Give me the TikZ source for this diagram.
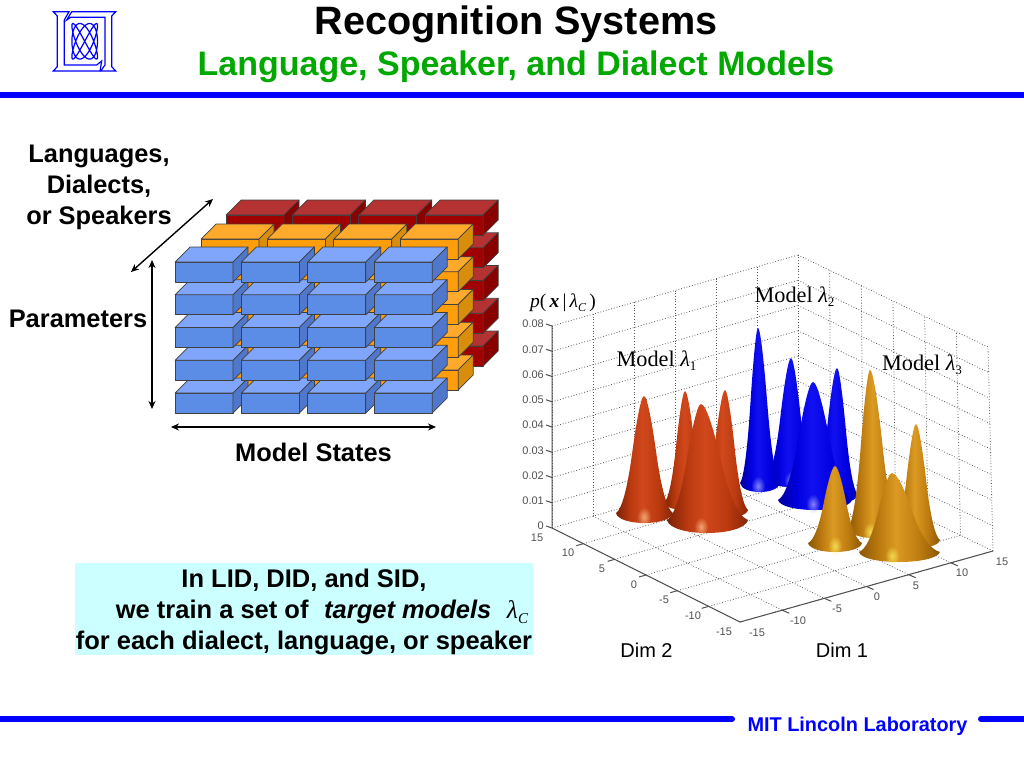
\documentclass[tikz,border=0pt]{standalone}
\usepackage{fontspec}
\setmainfont{Liberation Sans}
\newfontfamily\serifface{Liberation Serif}
\usetikzlibrary{arrows.meta,calc,fadings}
\definecolor{labblue}{HTML}{0000FF}
\definecolor{labgreen}{HTML}{00A800}
\definecolor{boxcyan}{HTML}{CCFFFF}
\definecolor{axisgray}{HTML}{505050}
\definecolor{reddark}{HTML}{7A2204}
\definecolor{redmid}{HTML}{BC3A10}
\definecolor{redlight}{HTML}{D0481C}
\definecolor{bluedark}{HTML}{00009A}
\definecolor{bluemid}{HTML}{0000E0}
\definecolor{bluelight}{HTML}{1010F0}
\definecolor{golddark}{HTML}{8A5606}
\definecolor{goldmid}{HTML}{BE7C10}
\definecolor{goldlight}{HTML}{DB9A22}
\pgfdeclarehorizontalshading{redpeak}{100bp}{color(0bp)=(reddark); color(25bp)=(reddark); color(38bp)=(redmid); color(48bp)=(redlight); color(62bp)=(redmid); color(75bp)=(reddark!85!redmid); color(100bp)=(reddark)}
\pgfdeclarehorizontalshading{bluepeak}{100bp}{color(0bp)=(bluedark); color(25bp)=(bluedark); color(38bp)=(bluemid); color(48bp)=(bluelight); color(62bp)=(bluemid); color(75bp)=(bluedark!60!bluemid); color(100bp)=(bluedark)}
\pgfdeclarehorizontalshading{goldpeak}{100bp}{color(0bp)=(golddark); color(25bp)=(golddark); color(38bp)=(goldmid); color(48bp)=(goldlight); color(62bp)=(goldmid); color(75bp)=(golddark); color(100bp)=(golddark)}
\tikzfading[name=glowfade,inner color=transparent!30,outer color=transparent!100]
\tikzset{
    titletext/.style={
        text=black,
        inner sep=0pt,
        font=\fontsize{39.6}{44}\selectfont\bfseries
    },
    subtitletext/.style={
        text=labgreen,
        inner sep=0pt,
        font=\fontsize{34}{40}\selectfont\bfseries
    },
    axislabel/.style={
        inner sep=0pt,
        align=center,
        font=\fontsize{25.4}{31}\selectfont\bfseries
    },
    modellabel/.style={
        inner sep=0pt,
        font=\fontsize{22.3}{26}\selectfont\serifface
    },
    dimlabel/.style={
        inner sep=0pt,
        font=\fontsize{20}{24}\selectfont
    },
    ticktext/.style={
        inner sep=0pt,
        text=axisgray,
        font=\fontsize{11}{13}\selectfont
    },
    rulebar/.style={
        draw=labblue,
        line width=6pt,
        line cap=round
    },
    sizearrow/.style={
        {Stealth[length=8pt,width=7pt]}-{Stealth[length=8pt,width=7pt]},
        draw=black,
        line width=1.4pt
    },
    gridline/.style={
        draw=black!65,
        line width=0.8pt,
        dotted
    },
    plotaxis/.style={
        draw=axisgray,
        line width=1pt
    },
    brickedge/.style={
        draw=black!75,
        line width=0.7pt,
        line join=round
    },
    logoline/.style={
        draw=labblue,
        line width=1.2pt,
        line join=miter
    }
}
% lambda with a subscript, size of the subscript first
\newcommand{\lamsub}[2]{{\mdseries\serifface\itshape λ}\raisebox{-0.18em}{\fontsize{#1}{#1}\selectfont\mdseries\serifface #2}}
% one box of the stack: x, y of the front corner, then front, top and side colour
\newcommand{\brick}[5]{
    \fill[brickedge,fill=#3] (#1,#2) rectangle (#1+58,#2+20);
    \fill[brickedge,fill=#4] (#1,#2) -- (#1+15,#2-15) -- (#1+73,#2-15) -- (#1+58,#2) -- cycle;
    \fill[brickedge,fill=#5] (#1+58,#2) -- (#1+73,#2-15) -- (#1+73,#2+5) -- (#1+58,#2+20) -- cycle;
}
% one bump: apex x, apex y, left x, right x, foot y, bottom y, shading, glow colour
\newcommand{\peak}[8]{
    \pgfmathsetmacro{\wl}{#1-#3}
    \pgfmathsetmacro{\wr}{#4-#1}
    \pgfmathsetmacro{\hh}{#5-#2}
    \pgfmathsetmacro{\bb}{#5+(#6-#5)/0.75}
    \shade[shading=#7] (#3,#5)
        .. controls (#3+0.2*\wl,#5-0.03*\hh) and (#1-0.6*\wl,#5-0.2*\hh) .. (#1-0.43*\wl,#5-0.5*\hh)
        .. controls (#1-0.33*\wl,#5-0.68*\hh) and (#1-0.13*\wl,#2) .. (#1,#2)
        .. controls (#1+0.13*\wr,#2) and (#1+0.33*\wr,#5-0.68*\hh) .. (#1+0.43*\wr,#5-0.5*\hh)
        .. controls (#1+0.6*\wr,#5-0.2*\hh) and (#4-0.2*\wr,#5-0.03*\hh) .. (#4,#5)
        .. controls (#4-0.1*\wr,\bb) and (#3+0.1*\wl,\bb) .. cycle;
    \fill[#8,path fading=glowfade] (#1,#6-6) ellipse (7 and 10);
}
\begin{document}
\begin{tikzpicture}[x=1pt,y=-1pt]
    \useasboundingbox (0,0) rectangle (1024,768);

    % header and footer
    \node[titletext] (title) at (516,24) {Recognition Systems};
    \node[subtitletext] (subtitle) at (516,67) {Language, Speaker, and Dialect Models};
    \draw[draw=labblue,line width=6pt] (0,95) -- (1024,95);
    \draw[rulebar] (-5,719) -- (732,719);
    \draw[rulebar] (981,719) -- (1030,719);
    \node[inner sep=0pt,text=labblue,font=\fontsize{19.9}{24}\selectfont\bfseries] (lab) at (857.5,726) {MIT Lincoln Laboratory};

    % logo
    \draw[logoline] (53.3,11.7) -- (69,11.7) -- (64.3,20) -- (64.3,65) -- (96.7,65) -- (101.7,61) -- (100,71) -- (53.3,71) -- (57.3,66.7) -- (57.3,16) -- cycle;
    \draw[logoline] (115.7,11.7) -- (71.7,11.7) -- (66.7,20) -- (70.7,17.3) -- (105,17.3) -- (105,65) -- (100.7,71) -- (115.7,71) -- (111.7,66.7) -- (111.7,16) -- cycle;
    \draw[logoline,smooth] plot[domain=0:360,samples=200,variable=\t] ({84.7+12.8*sin(3*\t+45)},{41.3+17.8*sin(4*\t)});

    % the three stacks, back to front
    \foreach \dx/\dy/\cf/\ct/\cs in {51/-47/A00000/B43232/880000,26/-23/FF9D0A/FFAA2C/D98E0B,0/0/5B8CE6/7FA6FA/4F78CC}{
        \definecolor{frontc}{HTML}{\cf}
        \definecolor{topc}{HTML}{\ct}
        \definecolor{sidec}{HTML}{\cs}
        \foreach \row in {4,3,2,1,0}{
            \foreach \col in {0,1,2,3}{
                \brick{175+66.4*\col+\dx}{262+32.75*\row+\dy}{frontc}{topc}{sidec}
            }
        }
    }

    % labels and arrows of the stacks
    \node[axislabel] (kinds) at (99,187) {Languages,\\Dialects,\\or Speakers};
    \node[axislabel] (params) at (78,319) {Parameters};
    \node[axislabel] (states) at (313.5,452) {Model States};
    \coordinate (depthA) at (131,272);
    \coordinate (depthB) at (213,199);
    \coordinate (paramA) at (152,260);
    \coordinate (paramB) at (152,409);
    \coordinate (stateA) at (171,427);
    \coordinate (stateB) at (436,427);
    \draw[sizearrow] (depthA) -- (depthB);
    \draw[sizearrow] (paramA) -- (paramB);
    \draw[sizearrow] (stateA) -- (stateB);

    % note
    \node[fill=boxcyan,inner sep=0pt,minimum width=458pt,minimum height=92pt] (note) at (304,609) {};
    \node[inner sep=0pt,align=center,font=\fontsize{25.5}{31}\selectfont\bfseries] (notetext) at (304,612)
        {In LID, DID, and SID,\\
         \hspace*{36pt}we train a set of\,\, \textit{target models}\,\, \lamsub{15}{\textit{C}}\\
         for each dialect, language, or speaker};

    % plot box
    \coordinate (floorO) at (552,528);
    \coordinate (floorC) at (740,622);
    \coordinate (floorR) at (993,551);
    \coordinate (floorB) at (798,457);
    \coordinate (topO) at (552,326);
    \coordinate (topB) at (798,255);
    \coordinate (topR) at (988,347);
    \foreach \i in {0,...,6}{
        \pgfmathsetmacro{\f}{\i/6}
        \draw[gridline] ($(floorO)!\f!(floorC)$) -- ($(floorB)!\f!(floorR)$);
        \draw[gridline] ($(floorO)!\f!(floorB)$) -- ($(floorC)!\f!(floorR)$);
        \draw[gridline] ($(floorO)!\f!(floorB)$) -- ($(topO)!\f!(topB)$);
        \draw[gridline] ($(floorB)!\f!(floorR)$) -- ($(topB)!\f!(topR)$);
    }
    \foreach \i in {1,...,8}{
        \pgfmathsetmacro{\f}{\i/8}
        \draw[gridline] ($(floorO)!\f!(topO)$) -- ($(floorB)!\f!(topB)$);
        \draw[gridline] ($(floorB)!\f!(topB)$) -- ($(floorR)!\f!(topR)$);
    }

    % axes
    \draw[plotaxis] (topO) -- (floorO) -- (floorC) -- (floorR);
    \foreach \i/\val in {0/0,1/0.01,2/0.02,3/0.03,4/0.04,5/0.05,6/0.06,7/0.07,8/0.08}{
        \pgfmathsetmacro{\f}{\i/8}
        \coordinate (ztick) at ($(floorO)!\f!(topO)$);
        \draw[plotaxis] (ztick) -- ++(-6,-2);
        \node[ticktext,anchor=east] (zlabel\i) at ($(ztick)+(-8,-2)$) {\val};
    }
    \foreach \i in {1,...,5}{
        \pgfmathsetmacro{\f}{\i/6}
        \draw[plotaxis] ($(floorO)!\f!(floorC)$) -- ++(-7,2);
        \draw[plotaxis] ($(floorC)!\f!(floorR)$) -- ++(7,3);
    }
    \foreach \x/\y/\val [count=\n] in {537/538/15,568/553/10,602/569/5,634/585/0,664/600/-5,693/616/-10,724/632/-15}{
        \node[ticktext] (dimtwo\n) at (\x,\y) {\val};
    }
    \foreach \x/\y/\val [count=\n] in {757/633/-15,798/621/-10,837/609/-5,877/597/0,916/586/5,962/573/10,1002/562/15}{
        \node[ticktext] (dimone\n) at (\x,\y) {\val};
    }
    \node[dimlabel] (dimtwo) at (646.5,650) {Dim 2};
    \node[dimlabel] (dimone) at (842,650) {Dim 1};

    % surfaces
    \peak{791}{358}{766}{814}{478}{487}{bluepeak}{blue!30}
    \peak{837}{368}{813}{858}{495}{503}{bluepeak}{blue!30}
    \peak{758}{328}{740}{780}{483}{492}{bluepeak}{blue!30}
    \peak{813}{382}{778}{852}{500}{510}{bluepeak}{blue!30}
    \peak{685}{391}{664}{708}{503}{510}{redpeak}{orange!30}
    \peak{725}{390}{700}{748}{510}{518}{redpeak}{orange!30}
    \peak{644}{396}{616}{673}{513}{523}{redpeak}{orange!40}
    \peak{701}{404}{667}{748}{520}{533}{redpeak}{orange!40}
    \peak{870}{370}{848}{900}{528}{538}{goldpeak}{yellow!60}
    \peak{916}{424}{893}{940}{540}{548}{goldpeak}{yellow!60}
    \peak{835}{466}{808}{862}{543}{552}{goldpeak}{yellow!60}
    \peak{892}{473}{859}{940}{552}{562}{goldpeak}{yellow!60}

    % curve labels
    \node[modellabel,font=\fontsize{19.5}{24}\selectfont\serifface] (density) at (563,303)
        {\textit{p}(\,\textbf{\textit{x}}\,|\,\lamsub{12}{\textit{C}}\,)};
    \node[modellabel] (modelone) at (656.5,361) {Model \lamsub{13}{1}};
    \node[modellabel] (modeltwo) at (794.5,297) {Model \lamsub{13}{2}};
    \node[modellabel] (modelthree) at (922,365) {Model \lamsub{13}{3}};
\end{tikzpicture}
\end{document}
